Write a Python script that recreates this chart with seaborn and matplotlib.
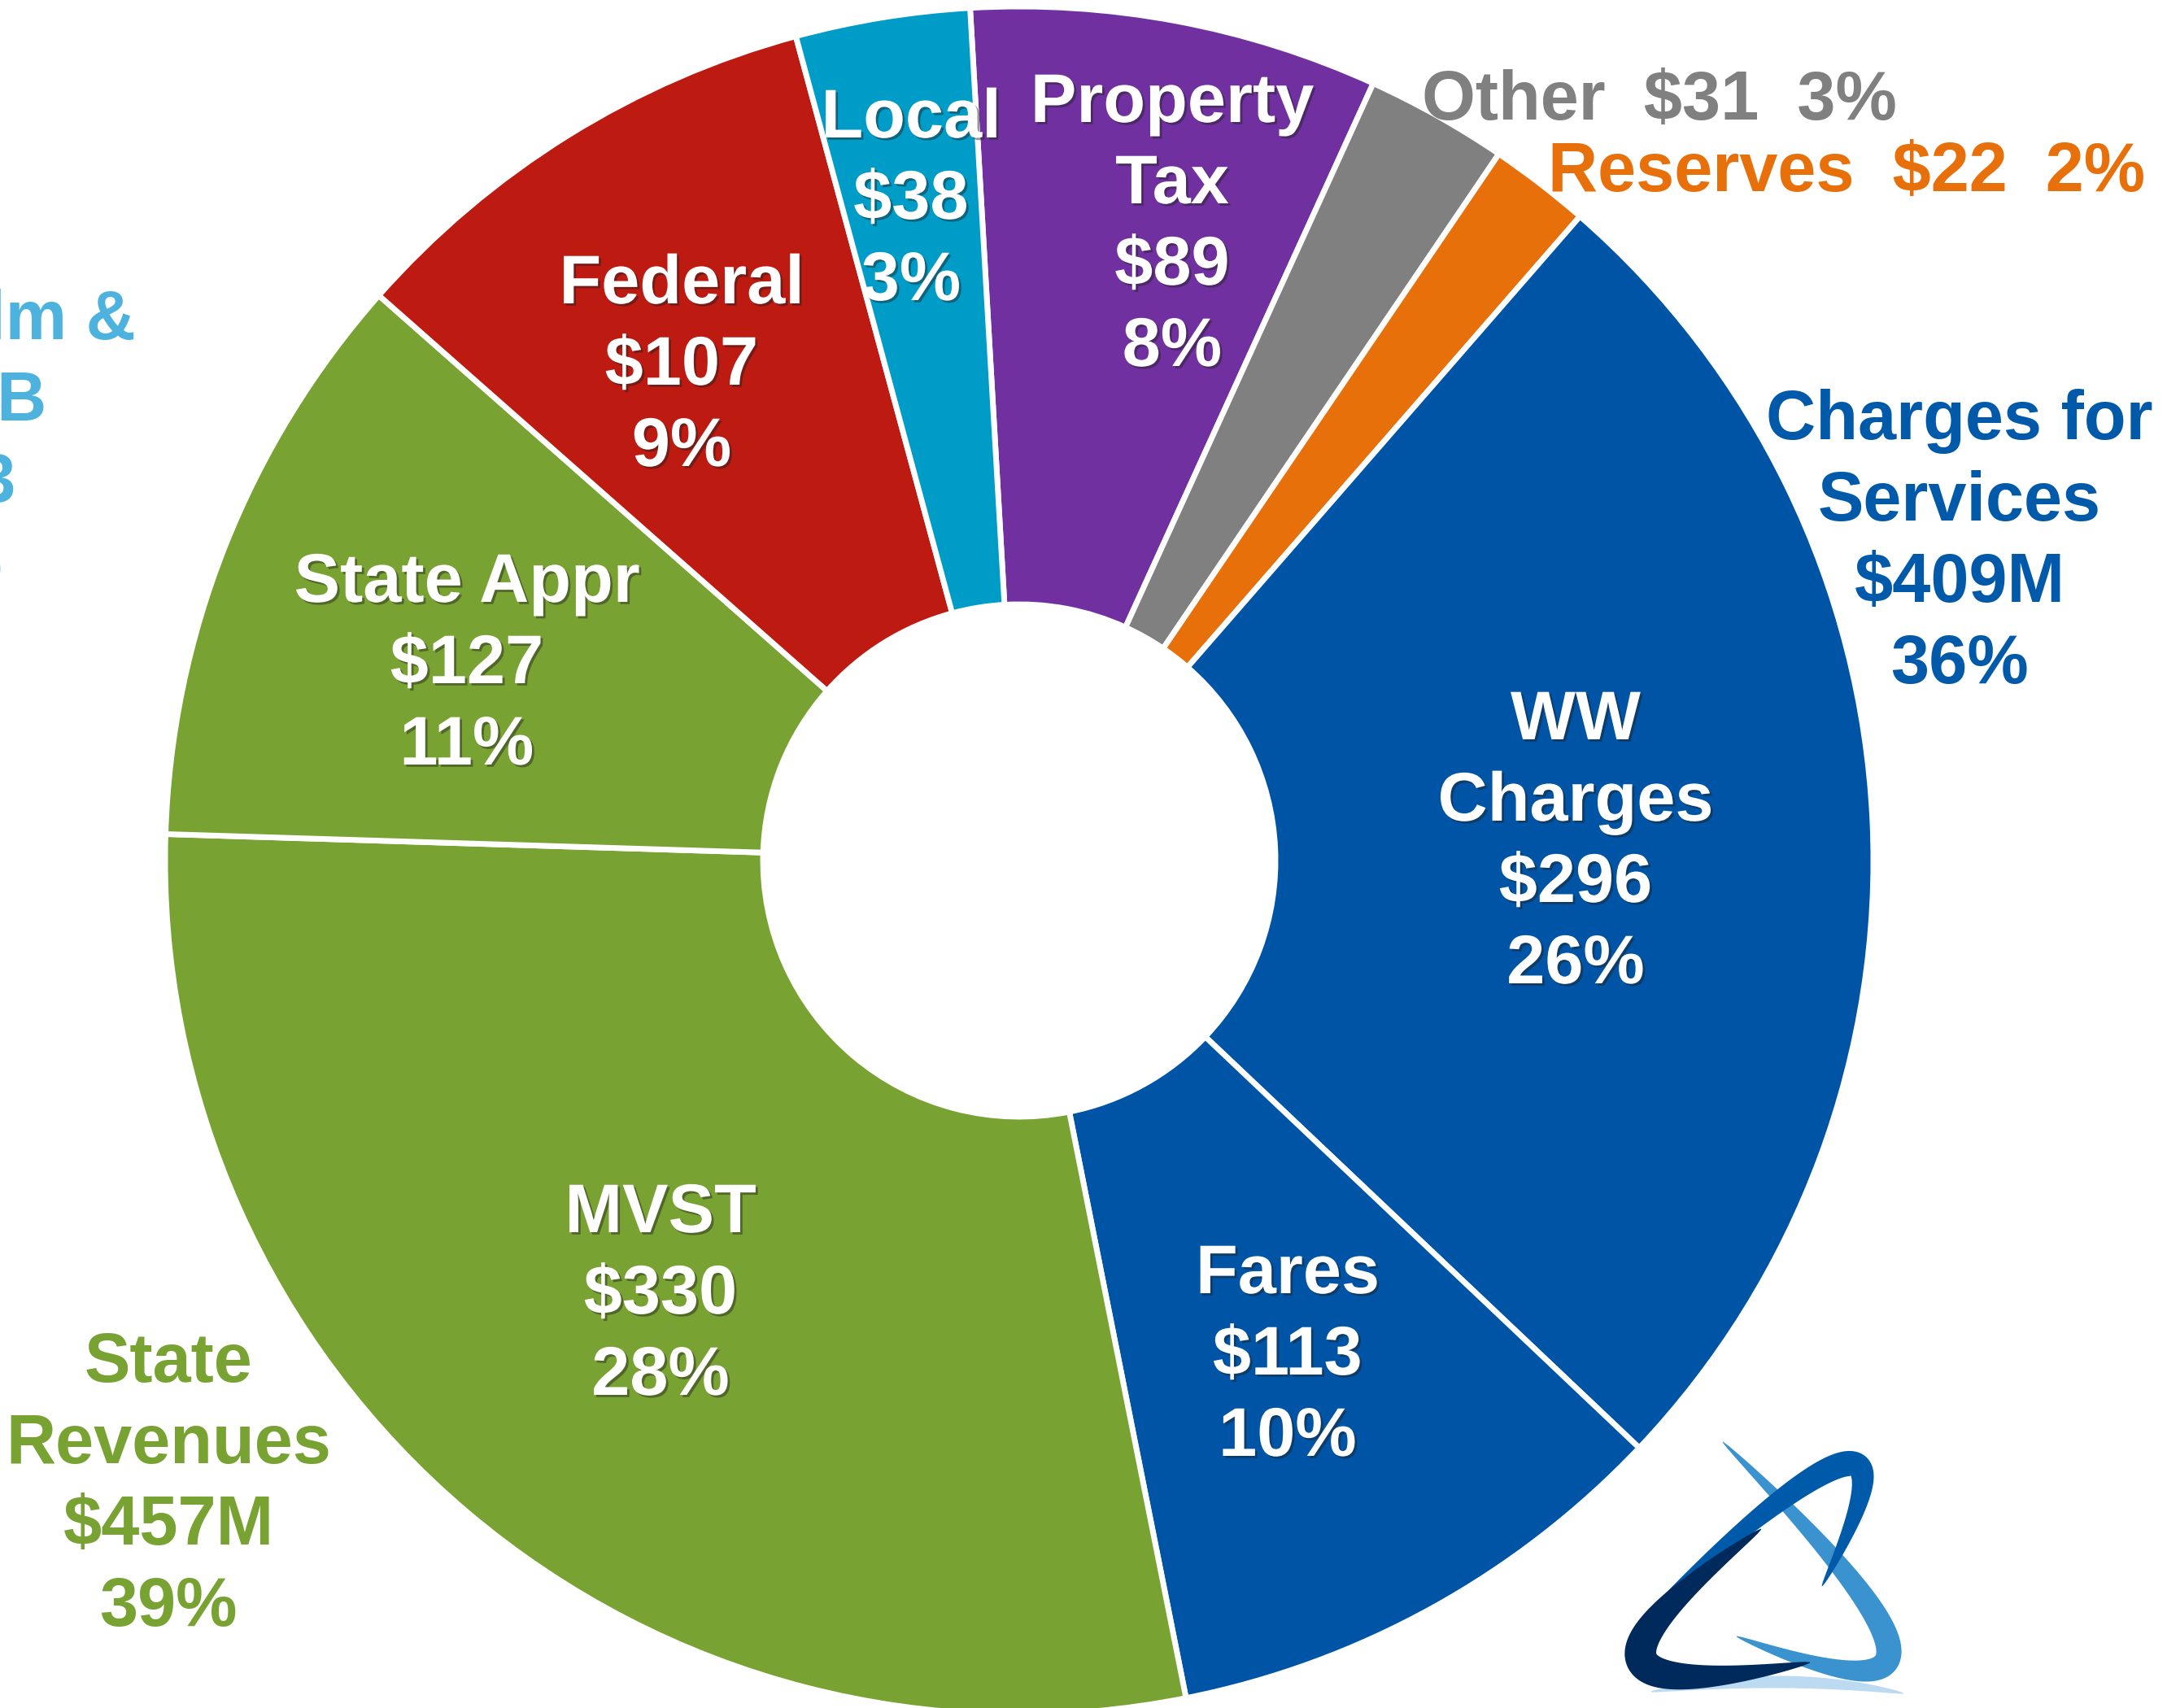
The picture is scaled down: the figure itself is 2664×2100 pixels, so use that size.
import numpy as np
import matplotlib
matplotlib.use("Agg")
import matplotlib.pyplot as plt
import matplotlib.patheffects as pe
from matplotlib.patches import Polygon
import seaborn as sns

# ---------------- data ----------------
categories = ["Property\nTax", "Other", "Reserves", "WW\nCharges", "Fares",
              "MVST", "State Appr", "Federal", "Local"]
values = [89, 31, 22, 296, 113, 330, 127, 107, 38]
pct_labels = ["8%", "3%", "2%", "26%", "10%", "28%", "11%", "9%", "3%"]
slice_colors = ["#7030A0", "#808080", "#E8700A", "#0054A6", "#0054A6",
                "#78A232", "#78A232", "#BD1A12", "#009CC8"]

group_names = ["Charges for\nServices", "State\nRevenues"]
group_totals = ["$409M", "$457M"]
group_pcts = ["36%", "39%"]
group_colors = ["#0059A9", "#78A232"]

cut_lines = ["Realm &", "DB", "$93", "8%"]   # partially visible label at left edge
cut_color = "#4DB3DE"

# ---------------- layout (pixels) ----------------
W, H = 2664, 2100
RX, RY = 1050, 1050          # outer radius horizontally / vertically (px)
CX, CY = 1253, 1058          # donut centre (px)
START = 93.3
LS = 100                     # line spacing (px)
CAP = 62                     # cap height (px)

label_pos = {                # block centre (px)
    "Property\nTax": (1441, 269),
    "WW\nCharges": (1937, 1028),
    "Fares": (1583, 1659),
    "MVST": (812, 1584),
    "State Appr": (574, 809),
    "Federal": (838, 442),
    "Local": (1120, 238),
}
outside_pos = {"Other": (2040, 116), "Reserves": (2270, 204)}
group_pos = [(2409, 659), (207, 1818)]

sns.set_theme(style="white")
plt.rcParams["font.family"] = ["Liberation Sans", "DejaVu Sans"]
FS = 61

fig = plt.figure(figsize=(W / 100, H / 100), dpi=100)
fig.patch.set_facecolor("white")
ax = fig.add_axes([0, 0, 1, 1])

def d(x, y):
    return x / RX, (H - y) / RY

palette = sns.color_palette(slice_colors)
wedges, _ = ax.pie(values, colors=palette, startangle=START, counterclock=False,
                   radius=1.0, center=d(CX, CY),
                   wedgeprops=dict(width=0.70, edgecolor="white", linewidth=5))
ax.set_xlim(0, W / RX)
ax.set_ylim(0, H / RY)
ax.set_aspect("auto")
ax.axis("off")

shadow = [pe.SimplePatchShadow(offset=(2, -2), shadow_rgbFace="#202020", alpha=0.45),
          pe.Normal()]

def block(lines, cx, cy, color, effects=None, ha="center", xs=None):
    n = len(lines)
    for i, ln in enumerate(lines):
        yc = cy + (i - (n - 1) / 2) * LS
        x = cx if xs is None else xs[i]
        ax.text(*d(x, yc + CAP / 2), ln, ha=ha, va="baseline", fontsize=FS,
                fontweight="bold", color=color, path_effects=effects)

for cat, val, pct in zip(categories, values, pct_labels):
    if cat in label_pos:
        cx, cy = label_pos[cat]
        block(cat.split("\n") + [f"${val}", pct], cx, cy, "white", shadow)

for cat, val, pct, col in zip(categories, values, pct_labels, slice_colors):
    if cat in outside_pos:
        cx, cy = outside_pos[cat]
        block([f"{cat}  ${val}  {pct}"], cx, cy, col)

for (cx, cy), nm, tot, pc, col in zip(group_pos, group_names, group_totals,
                                      group_pcts, group_colors):
    block(nm.split("\n") + [tot, pc], cx, cy, col)

# label cut by the left edge of the picture (as in the reference)
block(cut_lines, 0, 536, cut_color, ha="right", xs=[167, 58, 20, 3])

# ---------------- logo (decoration) ----------------
def swoosh(p0, c, p2, wmax, color, alpha=1.0, w0=1.0, w2=1.0):
    p0, c, p2 = map(np.asarray, (p0, c, p2))
    p1 = 2 * c - 0.5 * (p0 + p2)
    t = np.linspace(0, 1, 120)[:, None]
    pts = (1 - t) ** 2 * p0 + 2 * (1 - t) * t * p1 + t ** 2 * p2
    der = 2 * (1 - t) * (p1 - p0) + 2 * t * (p2 - p1)
    nrm = np.column_stack([-der[:, 1], der[:, 0]])
    nrm /= np.linalg.norm(nrm, axis=1)[:, None]
    tt = t[:, 0]
    w = wmax * np.sin(np.pi * tt) ** 0.7 + w0 * (1 - tt) + w2 * tt
    left = pts + nrm * w[:, None] / 2
    right = pts - nrm * w[:, None] / 2
    poly = np.vstack([left, right[::-1]])
    poly = np.array([d(x, y) for x, y in poly])
    ax.add_patch(Polygon(poly, closed=True, facecolor=color, edgecolor="none",
                         alpha=alpha, zorder=5))

swoosh((2030, 2080), (2190, 2068), (2340, 2082), 14, "#B5D6F0", 0.9)
swoosh((2118, 1773), (2322, 2028), (2135, 2012), 30, "#3A92CF")
swoosh((2020, 1990), (2268, 1800), (2240, 1950), 30, "#005AAA")
swoosh((2165, 1880), (2018, 2040), (2225, 2044), 38, "#002A5C")

fig.savefig("out.png", dpi=100, facecolor="white")
